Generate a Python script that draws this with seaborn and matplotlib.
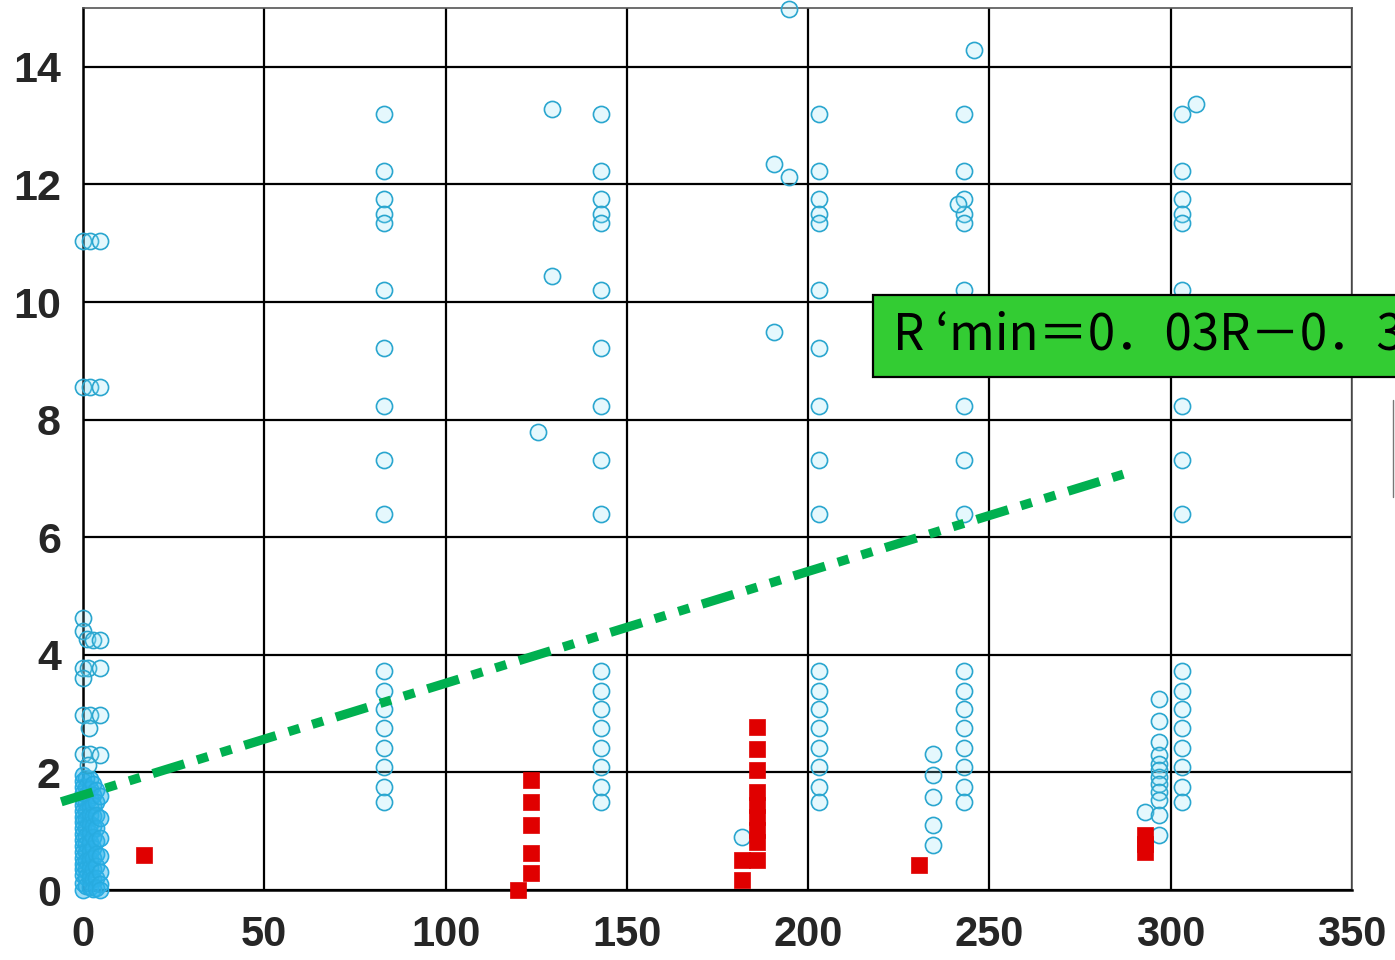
import matplotlib
matplotlib.use("Agg")
import matplotlib.pyplot as plt
from matplotlib.patches import Rectangle
from matplotlib.lines import Line2D
import seaborn as sns

# ---- data -------------------------------------------------------------
# repeated upper / lower levels measured on the main test columns
col_positions = [83, 143, 203, 243, 303]
upper_levels = [13.20, 12.22, 11.75, 11.49, 11.35, 10.20, 9.21, 8.23, 7.32, 6.40]
lower_levels = [3.72, 3.39, 3.07, 2.75, 2.41, 2.09, 1.76, 1.49]

# individual open-circle observations
extra_x = [129.3, 129.3, 125.5, 190.6, 194.7, 190.6, 194.7, 245.7, 241.3, 306.9,
           181.7, 292.9,
           234.5, 234.5, 234.5, 234.5, 234.5,
           296.8, 296.8, 296.8, 296.8, 296.8, 296.8, 296.8, 296.8, 296.8, 296.8, 296.8, 296.8]
extra_y = [13.29, 10.44, 7.79, 12.34, 12.13, 9.49, 14.98, 14.29, 11.66, 13.37,
           0.90, 1.33,
           2.32, 1.95, 1.58, 1.10, 0.76,
           3.24, 2.88, 2.52, 2.29, 2.15, 2.04, 1.92, 1.81, 1.67, 1.53, 1.27, 0.93]

# observations close to R = 0 (upper scattered ones)
near0_x = [0, 0, 1.0, 2.8, 4.7, 0, 1.3, 4.7, 0, 0, 1.8, 4.7, 1.6, 0, 1.8, 4.7, 1.5,
           0, 2.0, 4.7, 0, 2.0, 4.7]
near0_y = [4.62, 4.40, 4.27, 4.26, 4.25, 3.78, 3.78, 3.78, 3.60, 2.98, 2.98, 2.97, 2.75,
           2.32, 2.32, 2.30, 2.12,
           11.03, 11.03, 11.03, 8.55, 8.55, 8.55]

# dense group of small-R observations
dense_x = [0, 0, 0, 0, 0, 0, 0, 0, 0, 0, 0, 0, 0, 0, 0, 0, 0, 0, 0, 0,
           0.9, 0.9, 0.9, 0.9, 0.9, 0.9, 0.9, 0.9, 0.9, 0.9, 0.9, 0.9, 0.9, 0.9,
           1.8, 1.8, 1.8, 1.8, 1.8, 1.8, 1.8, 1.8, 1.8, 1.8, 1.8, 1.8, 1.8,
           2.7, 2.7, 2.7, 2.7, 2.7, 2.7, 2.7, 2.7, 2.7, 2.7, 2.7,
           3.6, 3.6, 3.6, 3.6, 3.6, 3.6, 3.6, 3.6, 3.6,
           4.6, 4.6, 4.6, 4.6, 4.6, 4.6, 4.6]
dense_y = [1.95, 1.85, 1.75, 1.65, 1.55, 1.45, 1.35, 1.25, 1.15, 1.05, 0.95, 0.85,
           0.75, 0.65, 0.55, 0.45, 0.35, 0.25, 0.12, 0.00,
           1.90, 1.76, 1.62, 1.48, 1.34, 1.20, 1.06, 0.92, 0.78, 0.64, 0.50, 0.36,
           0.22, 0.06,
           1.88, 1.72, 1.57, 1.42, 1.27, 1.12, 0.97, 0.82, 0.67, 0.52, 0.37, 0.22, 0.05,
           1.80, 1.62, 1.44, 1.26, 1.08, 0.90, 0.72, 0.54, 0.36, 0.18, 0.02,
           1.70, 1.50, 1.28, 1.05, 0.84, 0.62, 0.40, 0.20, 0.04,
           1.60, 1.22, 0.88, 0.58, 0.30, 0.10, 0.00]

# filled red squares
sq_x = [16.7, 119.9,
        123.5, 123.5, 123.5, 123.5, 123.5,
        185.8, 185.8, 185.8, 185.8, 185.8, 185.8, 185.8, 185.8, 185.8,
        181.7, 181.7, 230.6, 292.9, 292.9, 292.9]
sq_y = [0.60, 0.00,
        1.87, 1.50, 1.11, 0.63, 0.29,
        2.78, 2.40, 2.04, 1.67, 1.45, 1.24, 1.02, 0.81, 0.51,
        0.51, 0.17, 0.42, 0.93, 0.78, 0.64]

# boundary line
line_x = [-6.0, 290.0]
line_y = [1.50, 7.13]
line_label = "R ‘min＝0．03R－0．3"

x_ticks = [0, 50, 100, 150, 200, 250, 300, 350]
y_ticks = [0, 2, 4, 6, 8, 10, 12, 14]

# ---- assemble circle series -------------------------------------------
circ_x, circ_y = list(near0_x), list(near0_y)
for cx in col_positions:
    for lv in upper_levels + lower_levels:
        circ_x.append(cx)
        circ_y.append(lv)
circ_x += extra_x
circ_y += extra_y

# ---- figure -----------------------------------------------------------
sns.set_style("white")
tick_font = ["Liberation Sans Narrow", "Liberation Sans", "DejaVu Sans"]

W, H = 1395, 960
fig = plt.figure(figsize=(W / 100, H / 100), dpi=100)
ax = fig.add_axes([83 / W, 1 - 890 / H, (1352 - 83) / W, (890 - 8) / H])

circle_edge = "#2aa6cf"
sns.scatterplot(x=dense_x, y=dense_y, ax=ax, marker="o", s=135,
                facecolor=(0.18, 0.70, 0.92, 0.45), edgecolor="#27abe0",
                linewidth=1.2, clip_on=False, zorder=3)
sns.scatterplot(x=circ_x, y=circ_y, ax=ax, marker="o", s=135,
                facecolor=(0.55, 0.88, 0.97, 0.22), edgecolor=circle_edge,
                linewidth=1.2, clip_on=False, zorder=3)
sns.scatterplot(x=sq_x, y=sq_y, ax=ax, marker="s", s=125,
                color="#e00000", edgecolor="#e00000", linewidth=0.5,
                clip_on=False, zorder=4)

sns.lineplot(x=line_x, y=line_y, ax=ax, color="#00b050", linewidth=6.6,
             sort=False, zorder=5)
ln = ax.lines[-1]
ln.set_dashes((3.6, 1.45, 1.25, 1.45, 1.25, 1.45))
ln.set_dash_capstyle("butt")
ln.set_clip_on(False)

ax.set_xlim(0, 350)
ax.set_ylim(0, 15)
ax.set_xticks(x_ticks)
ax.set_yticks(y_ticks)
ax.set_xticklabels([str(t) for t in x_ticks], family=tick_font,
                   fontsize=30, fontweight="bold")
ax.set_yticklabels([str(t) for t in y_ticks], family=tick_font,
                   fontsize=31, fontweight="bold")
ax.tick_params(axis="x", length=0, pad=18)
ax.tick_params(axis="y", length=0, pad=16)
ax.grid(True, color="black", linewidth=1.6)
ax.set_axisbelow(True)
for side in ["left", "bottom"]:
    ax.spines[side].set_color("black")
    ax.spines[side].set_linewidth(1.8)
for side in ["top", "right"]:
    ax.spines[side].set_color("#555555")
    ax.spines[side].set_linewidth(1.2)

# label box for the boundary line
fig.add_artist(Rectangle((873 / W, 1 - 377 / H), (1420 - 873) / W, 82 / H,
                         transform=fig.transFigure, facecolor="#33cc33",
                         edgecolor="black", linewidth=1.6, zorder=6))
fig.text(893 / W, 1 - 350 / H, line_label, fontsize=35.5, color="black",
         va="baseline", ha="left", zorder=7,
         family=["Noto Sans CJK JP", "DejaVu Sans"])
fig.add_artist(Line2D([1393 / W, 1393 / W], [1 - 400 / H, 1 - 497 / H],
                      transform=fig.transFigure, color="#777777", linewidth=1.0))

fig.savefig("out.png", dpi=100)
